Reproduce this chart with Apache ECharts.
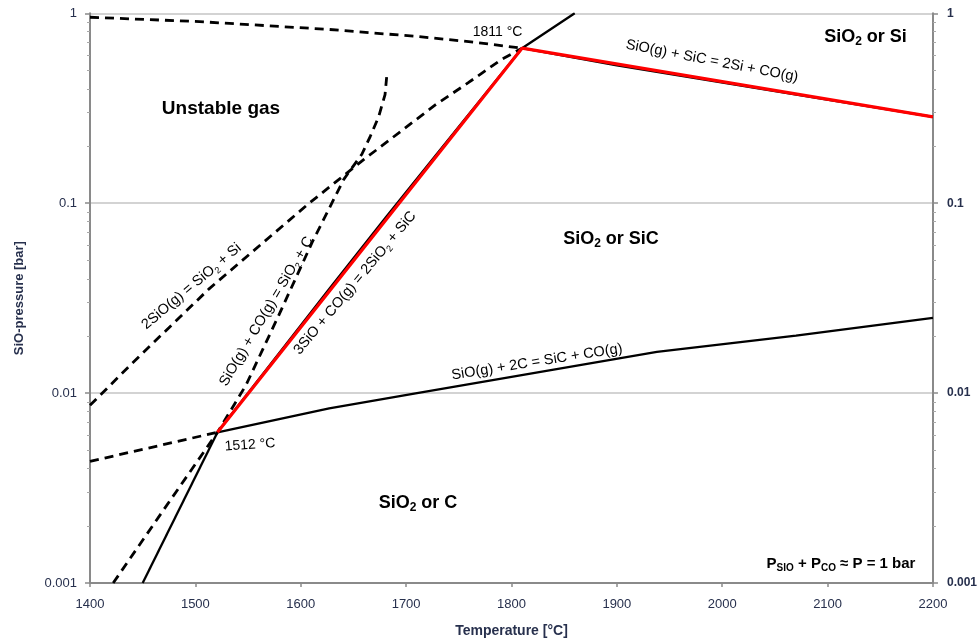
<!DOCTYPE html>
<html>
<head>
<meta charset="utf-8">
<script src="https://cdn.jsdelivr.net/npm/echarts@6/dist/echarts.min.js"></script>
<style>
  html, body { margin: 0; padding: 0; background: #fff; }
  #chart { width: 980px; height: 643px; }
</style>
</head>
<body>
<div id="chart"></div>
<script>
// ---------- data (temperature °C, SiO pressure bar) ----------
const xTicks = [1400, 1500, 1600, 1700, 1800, 1900, 2000, 2100, 2200];
const yTickLabels = ['0.001', '0.01', '0.1', '1'];
const yMinorTicks = [0.002,0.003,0.004,0.005,0.006,0.007,0.008,0.009,
                     0.02,0.03,0.04,0.05,0.06,0.07,0.08,0.09,
                     0.2,0.3,0.4,0.5,0.6,0.7,0.8,0.9];

// dashed: 2SiO(g) = SiO2 + Si
const t_2SiO = [1400, 1438, 1513, 1608, 1660, 1728, 1759, 1790, 1810];
const p_2SiO = [0.00862, 0.0140, 0.0354, 0.100, 0.170, 0.330, 0.431, 0.569, 0.655];

// dashed: SiO(g) + CO(g) = SiO2 + C
const t_SiOCO = [1422, 1471, 1521, 1548, 1579, 1611, 1641, 1658, 1666, 1674, 1680, 1682];
const p_SiOCO = [0.001, 0.00248, 0.00622, 0.0110, 0.0256, 0.0625, 0.134, 0.181, 0.225, 0.286, 0.373, 0.492];

// dashed: upper boundary (to 1811 °C point)
const t_top = [1400, 1504, 1627, 1712, 1768, 1810];
const p_top = [0.953, 0.904, 0.822, 0.754, 0.701, 0.655];

// dashed: left extension of SiO(g) + 2C line
const t_left = [1400, 1521];
const p_left = [0.00437, 0.00622];

// solid: lower boundary below 1512 °C point
const t_low = [1450, 1521];
const p_low = [0.001, 0.00622];

// solid: 3SiO + CO(g) = 2SiO2 + SiC
const t_3SiO = [1521, 1627, 1681, 1810, 1860];
const p_3SiO = [0.00622, 0.0354, 0.0846, 0.655, 1.0];

// solid: SiO(g) + 2C = SiC + CO(g)
const t_2C = [1521, 1627, 1709, 1938, 2070, 2200];
const p_2C = [0.00622, 0.00832, 0.00997, 0.0165, 0.0201, 0.0249];

// solid: SiO(g) + SiC = 2Si + CO(g)
const t_SiC = [1810, 1900, 2200];
const p_SiC = [0.655, 0.532, 0.285];

// red: highlighted path
const t_red = [1521, 1810, 2200];
const p_red = [0.00622, 0.655, 0.285];

// ---------- helpers ----------
const zip = (a, b) => a.map((v, i) => [v, b[i]]);
const FONT = '"Liberation Sans", Arial, sans-serif';
const AX = '#8a8a8a';
const LBL = '#27304d';

function lineSeries(t, p, color, width, type, z) {
  return {
    type: 'line', data: zip(t, p), xAxisIndex: 0, yAxisIndex: 0,
    showSymbol: false, symbol: 'none', smooth: false, animation: false, silent: true,
    z: z,
    lineStyle: { color: color, width: width, type: type, cap: 'butt' }
  };
}
const DASH = [9, 6];

const logAxisBase = { type: 'log', logBase: 10, min: 0.001, max: 1 };

const chart = echarts.init(document.getElementById('chart'), null, { renderer: 'canvas' });

const subRich = (size, w, color) => ({
  a: { fontSize: size, fontWeight: w, fontFamily: FONT, color: color, lineHeight: size + 4, verticalAlign: 'middle' },
  s: { fontSize: Math.round(size * 0.65), fontWeight: w, fontFamily: FONT, color: color, lineHeight: Math.round(size * 0.65), verticalAlign: 'bottom' }
});

function note(x, y, rot, text, size, weight, color) {
  return {
    type: 'text', x: x, y: y, rotation: rot, z: 100,
    style: {
      text: text, align: 'center', verticalAlign: 'middle',
      rich: subRich(size, weight, color)
    }
  };
}

const option = {
  backgroundColor: '#ffffff',
  animation: false,
  grid: { left: 90, right: 43, top: 13.3, bottom: 57.5, containLabel: false },
  xAxis: [{
    type: 'value', min: 1400, max: 2200, interval: 100,
    name: 'Temperature [°C]', nameLocation: 'middle', nameGap: 41,
    nameTextStyle: { fontFamily: FONT, fontWeight: 'bold', fontSize: 14, color: LBL },
    axisLine: { show: true, lineStyle: { color: AX, width: 2 } },
    axisTick: { show: true, length: 4, lineStyle: { color: AX, width: 1.5 } },
    splitLine: { show: false },
    axisLabel: { fontFamily: FONT, fontSize: 13, color: LBL, margin: 15,
                 formatter: v => String(v) }
  }],
  yAxis: [
    Object.assign({}, logAxisBase, {
      position: 'left',
      name: 'SiO-pressure [bar]', nameLocation: 'middle', nameGap: 64, nameRotate: 90,
      nameTextStyle: { fontFamily: FONT, fontWeight: 'bold', fontSize: 13, color: LBL },
      axisLine: { show: true, lineStyle: { color: AX, width: 2 } },
      axisTick: { show: true, length: 5, lineStyle: { color: AX, width: 1.5 } },
      splitLine: { show: true, lineStyle: { color: '#c4c4c4', width: 1.5 } },
      axisLabel: { fontFamily: FONT, fontSize: 13, color: LBL, margin: 13,
                   formatter: (v, i) => yTickLabels[i] }
    }),
    Object.assign({}, logAxisBase, {
      position: 'left',
      axisLine: { show: false },
      axisTick: { show: true, length: 3, customValues: yMinorTicks, lineStyle: { color: '#a8a8a8', width: 1 } },
      splitLine: { show: false },
      axisLabel: { show: false }
    }),
    Object.assign({}, logAxisBase, {
      position: 'right',
      axisLine: { show: true, lineStyle: { color: AX, width: 2 } },
      axisTick: { show: true, length: 5, lineStyle: { color: AX, width: 1.5 } },
      splitLine: { show: false },
      axisLabel: { fontFamily: FONT, fontSize: 12, fontWeight: 'bold', color: LBL, margin: 14,
                   formatter: (v, i) => yTickLabels[i] }
    }),
    Object.assign({}, logAxisBase, {
      position: 'right',
      axisLine: { show: false },
      axisTick: { show: true, length: 3, customValues: yMinorTicks, lineStyle: { color: '#a8a8a8', width: 1 } },
      splitLine: { show: false },
      axisLabel: { show: false }
    })
  ],
  series: [
    lineSeries(t_top, p_top, '#000', 2.8, DASH, 2),
    lineSeries(t_2SiO, p_2SiO, '#000', 2.8, DASH, 2),
    lineSeries(t_SiOCO, p_SiOCO, '#000', 2.8, DASH, 2),
    lineSeries(t_left, p_left, '#000', 2.8, DASH, 2),
    lineSeries(t_low, p_low, '#000', 2.3, 'solid', 3),
    lineSeries(t_3SiO, p_3SiO, '#000', 2.3, 'solid', 3),
    lineSeries(t_2C, p_2C, '#000', 2.3, 'solid', 3),
    lineSeries(t_SiC, p_SiC, '#000', 2.3, 'solid', 3),
    lineSeries(t_red, p_red, '#ff0000', 3.2, 'solid', 4)
  ],
  graphic: [
    note(497.5, 32.5, 0, '{a|1811 °C}', 14, 'normal', '#333'),
    note(250, 445, 0.07, '{a|1512 °C}', 14, 'normal', '#333'),
    note(712, 61, -0.19, '{a|SiO(g) + SiC = 2Si + CO(g)}', 14.5, 'normal', '#333'),
    note(537, 362, 0.157, '{a|SiO(g) + 2C = SiC + CO(g)}', 14.5, 'normal', '#333'),
    note(355, 283, 0.873, '{a|3SiO + CO(g) = 2SiO}{s|2}{a| + SiC}', 14.5, 'normal', '#333'),
    note(266.5, 311.5, 1.037, '{a|SiO(g) + CO(g) = SiO}{s|2}{a| + C}', 14.5, 'normal', '#333'),
    note(191.5, 286.5, 0.70, '{a|2SiO(g) = SiO}{s|2}{a| + Si}', 14.5, 'normal', '#333'),
    note(221, 108.5, 0, '{a|Unstable gas}', 19, 'bold', '#111'),
    note(865.5, 37, 0, '{a|SiO}{s|2}{a| or Si}', 18, 'bold', '#111'),
    note(611, 239, 0, '{a|SiO}{s|2}{a| or SiC}', 18, 'bold', '#111'),
    note(418, 503, 0, '{a|SiO}{s|2}{a| or C}', 18, 'bold', '#111'),
    note(841, 564, 0, '{a|P}{s|SIO}{a| + P}{s|CO}{a| ≈ P = 1 bar}', 15, 'bold', '#111')
  ]
};
chart.setOption(option);
</script>
</body>
</html>
